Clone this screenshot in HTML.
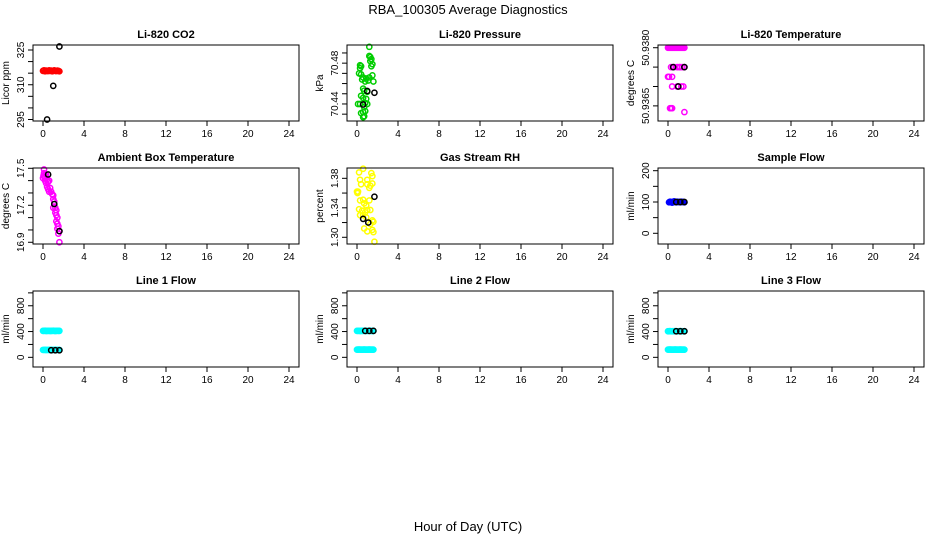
<!DOCTYPE html>
<html><head><meta charset="utf-8"><style>
html,body{margin:0;padding:0;background:#fff;}
svg{display:block;font-family:"Liberation Sans",Arial,sans-serif;}
</style></head><body>
<svg id="chart" width="936" height="540" viewBox="0 0 936 540">
<text x="468" y="14" text-anchor="middle" font-size="13">RBA_100305  Average Diagnostics</text>
<text x="468" y="531" text-anchor="middle" font-size="13">Hour of Day (UTC)</text>
</svg>
<script>
const xTicks = [0,4,8,12,16,20,24];
// CO2
const co2X = [0,0.1,0.2,0.3,0.4,0.5,0.6,0.7,0.8,0.9,1.0,1.1,1.2,1.3,1.4,1.5,1.6];
const co2Y = [316,316.2,315.8,316.1,316,315.9,316.2,316,316.1,315.8,316,316.2,316,315.9,316.1,316,315.8];
const co2AvgX = [1.6,1.0,0.4];
const co2AvgY = [326.5,309.5,295];
// Pressure
const presX = [1.2,1.2,1.3,1.4,1.3,1.5,1.4,0.3,0.3,0.4,0.2,0.4,1.5,1.2,0.6,0.9,0.5,1.6,1.1,0.8,0.6,0.7,1.0,0.4,0.6,0.9,0.1,0.3,0.8,1.0,0.7,0.4,0.6,0.8,0.7,0.6];
const presY = [70.496,70.487,70.486,70.484,70.482,70.479,70.477,70.478,70.475,70.477,70.470,70.469,70.468,70.466,70.466,70.465,70.464,70.462,70.463,70.462,70.455,70.453,70.452,70.448,70.446,70.445,70.440,70.440,70.441,70.440,70.437,70.431,70.432,70.433,70.428,70.427];
const presAvgX = [1.0,1.7,0.6];
const presAvgY = [70.4527,70.451,70.4395];
// Li-820 temperature
const tempX = [0,0.1,0.2,0.3,0.4,0.5,0.6,0.7,0.8,0.9,1.0,1.1,1.2,1.3,1.4,1.5,1.6,0.3,0.6,0.9,1.1,1.2,1.4,1.6,0.0,0.1,0.4,0.4,0.9,1.0,1.3,1.5,0.2,0.3,0.4,1.6];
const tempY = [50.9380,50.9380,50.9380,50.9380,50.9380,50.9380,50.9380,50.9380,50.9380,50.9380,50.9380,50.9380,50.9380,50.9380,50.9380,50.9380,50.9380,50.9375,50.9375,50.9375,50.9375,50.9375,50.9375,50.9375,50.93725,50.93725,50.93725,50.9370,50.9370,50.9370,50.9370,50.9370,50.93644,50.93644,50.93644,50.93634];
const tempAvgX = [0.5,1.6,1.0];
const tempAvgY = [50.9375,50.9375,50.9370];
// Ambient box temperature
const ambX = [0.1,0.1,0.05,0.15,0.0,0.2,0.3,0.2,0.4,0.3,0.5,0.6,0.4,0.5,0.7,0.6,0.8,0.9,1.0,1.0,1.1,1.0,1.2,1.3,1.2,1.3,1.4,1.3,1.4,1.5,1.4,1.6,1.5,1.6];
const ambY = [17.49,17.46,17.44,17.43,17.42,17.44,17.45,17.40,17.41,17.38,17.39,17.40,17.35,17.33,17.34,17.31,17.31,17.29,17.28,17.25,17.23,17.18,17.18,17.16,17.14,17.12,17.10,17.07,17.05,17.03,17.01,16.99,16.97,16.90];
const ambAvgX = [0.5,1.1,1.6];
const ambAvgY = [17.45,17.21,16.99];
// RH
const rhX = [0.6,0.2,1.4,1.5,0.3,1.0,0.4,1.0,1.5,1.3,1.2,0.0,0.05,0.1,0.3,0.6,1.2,0.7,0.9,0.2,1.0,1.3,0.5,0.8,0.3,0.6,0.9,1.5,1.6,1.3,0.7,1.5,1.0,1.6,1.7];
const rhY = [1.393,1.388,1.387,1.383,1.378,1.378,1.372,1.372,1.373,1.370,1.367,1.362,1.360,1.362,1.350,1.351,1.350,1.346,1.343,1.338,1.337,1.337,1.336,1.334,1.330,1.330,1.327,1.323,1.321,1.318,1.312,1.310,1.308,1.307,1.294];
const rhAvgX = [1.7,0.6,1.1];
const rhAvgY = [1.355,1.325,1.320];
// Sample flow
const sfX = [0.1,0.2,0.3,0.4,0.5,0.6,0.7,0.8,0.9,1.0,1.1,1.2,1.3,1.4,1.5,1.6];
const sfY = [99,101,100,98,100,102,100,99,101,100,100,99,101,100,100,99];
const sfAvgX = [0.8,1.2,1.6];
const sfAvgY = [100,100,100];
// Line flows
const flowX = [0,0.1,0.2,0.3,0.4,0.5,0.6,0.7,0.8,0.9,1.0,1.1,1.2,1.3,1.4,1.5,1.6];
const l1HighY = [410,410,412,408,410,410,411,409,410,410,412,410,409,410,411,410,410];
const l1LowY = [115,115,116,114,115,115,115,116,115,114,115,115,116,115,115,114,115];
const l1AvgX = [0.8,1.2,1.6];
const l1AvgY = [110,110,110];
const l2HighY = [410,410,411,409,410,410,410,411,410,409,410,410,411,410,410,409,410];
const l2LowY = [120,120,121,119,120,120,120,121,120,119,120,120,121,120,120,119,120];
const l2AvgX = [0.8,1.2,1.6];
const l2AvgY = [410,410,410];
const l3HighY = [405,405,406,404,405,405,405,406,405,404,405,405,406,405,405,404,405];
const l3LowY = [120,120,121,119,120,120,120,121,120,119,120,120,121,120,120,119,120];
const l3AvgX = [0.8,1.2,1.6];
const l3AvgY = [405,405,405];

const NS = "http://www.w3.org/2000/svg";
const svg = document.getElementById('chart');
function mk(tag, attrs, parent){
  const e = document.createElementNS(NS, tag);
  for (const k in attrs) e.setAttribute(k, attrs[k]);
  (parent||svg).appendChild(e);
  return e;
}
const colLeft = [33,347,658], rowTop = [45,168,291], boxW = 266, boxH = 76;

const panels = [
 {name:'co2', title:'Li-820 CO2', ylab:'Licor ppm', r:0,c:0, ylim:[294.35,327.16], ticks:[295,300,305,310,315,320,325], labels:[295,310,325], dec:0,
  series:[{x:co2X,y:co2Y,col:'#ff0000'}], avg:{x:co2AvgX,y:co2AvgY}},
 {name:'pressure', title:'Li-820 Pressure', ylab:'kPa', r:0,c:1, ylim:[70.4233,70.4978], ticks:[70.43,70.44,70.45,70.46,70.47,70.48,70.49], labels:[70.44,70.48], dec:2,
  series:[{x:presX,y:presY,col:'#00cd00'}], avg:{x:presAvgX,y:presAvgY}},
 {name:'li820-temperature', title:'Li-820 Temperature', ylab:'degrees C', r:0,c:2, ylim:[50.93611,50.93807], ticks:[50.9365,50.9370,50.9375,50.9380], labels:[50.9365,50.9380], dec:4,
  series:[{x:tempX,y:tempY,col:'#ff00ff'}], avg:{x:tempAvgX,y:tempAvgY}},
 {name:'ambient-temperature', title:'Ambient Box Temperature', ylab:'degrees C', r:1,c:0, ylim:[16.886,17.5024], ticks:[16.9,17.0,17.1,17.2,17.3,17.4,17.5], labels:[16.9,17.2,17.5], dec:1,
  series:[{x:ambX,y:ambY,col:'#ff00ff'}], avg:{x:ambAvgX,y:ambAvgY}},
 {name:'gas-stream-rh', title:'Gas Stream RH', ylab:'percent', r:1,c:1, ylim:[1.2909,1.394], ticks:[1.30,1.32,1.34,1.36,1.38], labels:[1.30,1.34,1.38], dec:2,
  series:[{x:rhX,y:rhY,col:'#ffff00'}], avg:{x:rhAvgX,y:rhAvgY}},
 {name:'sample-flow', title:'Sample Flow', ylab:'ml/min', r:1,c:2, ylim:[-34.2,208.6], ticks:[0,50,100,150,200], labels:[0,100,200], dec:0,
  series:[{x:sfX,y:sfY,col:'#0000ff'}], avg:{x:sfAvgX,y:sfAvgY}},
 {name:'line1-flow', title:'Line 1 Flow', ylab:'ml/min', r:2,c:0, ylim:[-150,1029], ticks:[0,200,400,600,800,1000], labels:[0,400,800], dec:0,
  series:[{x:flowX,y:l1HighY,col:'#00ffff'},{x:flowX,y:l1LowY,col:'#00ffff'}], avg:{x:l1AvgX,y:l1AvgY}},
 {name:'line2-flow', title:'Line 2 Flow', ylab:'ml/min', r:2,c:1, ylim:[-150,1029], ticks:[0,200,400,600,800,1000], labels:[0,400,800], dec:0,
  series:[{x:flowX,y:l2HighY,col:'#00ffff'},{x:flowX,y:l2LowY,col:'#00ffff'}], avg:{x:l2AvgX,y:l2AvgY}},
 {name:'line3-flow', title:'Line 3 Flow', ylab:'ml/min', r:2,c:2, ylim:[-150,1029], ticks:[0,200,400,600,800,1000], labels:[0,400,800], dec:0,
  series:[{x:flowX,y:l3HighY,col:'#00ffff'},{x:flowX,y:l3LowY,col:'#00ffff'}], avg:{x:l3AvgX,y:l3AvgY}}
];

panels.forEach(p=>{
  const L = colLeft[p.c], T = rowTop[p.r], B = T+boxH;
  const g = mk('g',{});
  
  
  const xs = v => L + 10 + v*246/24;
  const ys = v => B - (v - p.ylim[0])/(p.ylim[1]-p.ylim[0])*boxH;
  const t = mk('text',{x:L+boxW/2,y:T-7,'text-anchor':'middle','font-size':'11','font-weight':'bold'},g);
  t.textContent = p.title;
  
  
  // x axis
  const xa = mk('g',{},g);
  
  
  mk('line',{x1:xs(xTicks[0]),x2:xs(xTicks[xTicks.length-1]),y1:B,y2:B,stroke:'#000','stroke-width':1},xa);
  xTicks.forEach(v=>{
    mk('line',{x1:xs(v),x2:xs(v),y1:B,y2:B+5,stroke:'#000','stroke-width':1},xa);
    const tl = mk('text',{x:xs(v),y:B+16,'text-anchor':'middle','font-size':'10'},xa);
    tl.textContent = v;
  });
  // y axis
  const ya = mk('g',{},g);
  
  
  mk('line',{x1:L,x2:L,y1:ys(p.ticks[0]),y2:ys(p.ticks[p.ticks.length-1]),stroke:'#000','stroke-width':1},ya);
  p.ticks.forEach(v=>{
    mk('line',{x1:L-5,x2:L,y1:ys(v),y2:ys(v),stroke:'#000','stroke-width':1},ya);
  });
  p.labels.forEach(v=>{
    const yy = ys(v);
    const tl = mk('text',{x:L-9,y:yy,'text-anchor':'middle','font-size':'10',transform:`rotate(-90 ${L-9} ${yy})`},ya);
    tl.textContent = v.toFixed(p.dec);
  });
  const yl = mk('text',{x:L-24,y:T+boxH/2,'text-anchor':'middle','font-size':'10',transform:`rotate(-90 ${L-24} ${T+boxH/2})`},g);
  yl.textContent = p.ylab;
  
  
  // points
  p.series.forEach((s,si)=>{
    s.x.forEach((xv,i)=>{
      const c = mk('circle',{cx:xs(xv),cy:ys(s.y[i]),r:2.6,fill:'none',stroke:s.col,'stroke-width':1.5},g);
      
      
    });
  });
  p.avg.x.forEach((xv,i)=>{
    const c = mk('circle',{cx:xs(xv),cy:ys(p.avg.y[i]),r:2.6,fill:'none',stroke:'#000','stroke-width':1.5},g);
    
    
  });
  const box = mk('rect',{x:L,y:T,width:boxW,height:boxH,fill:'none',stroke:'#000','stroke-width':1},g);
  
  
});
</script>
</body></html>
